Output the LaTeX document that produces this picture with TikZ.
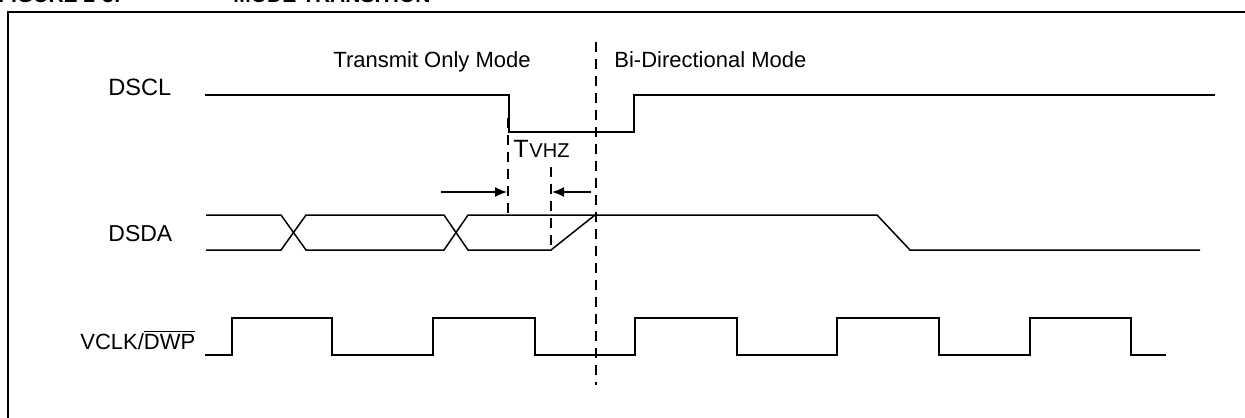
\documentclass[tikz,border=0pt]{standalone}
\usepackage{fontspec}
\setmainfont{Liberation Sans}
\usetikzlibrary{arrows.meta,positioning}
\tikzset{
    every node/.style={font=\fontsize{11}{13}\selectfont, inner sep=0pt},
    sig label/.style={anchor=base west},
    wave/.style={line width=0.75pt, line join=miter},
    marker/.style={line width=0.6pt, dash pattern=on 5pt off 3.5pt}
}

\begin{document}
\begin{tikzpicture}[
            x = 0.5pt, y = -0.5pt, % one unit is one pixel of the reference
            > = {Latex[length=6pt,width=5pt]}
        ]
        \useasboundingbox (0,0) rectangle (1245,417);

        % title and frame
        \node[sig label, font=\bfseries\fontsize{10.5}{13}\selectfont] (fig) at (-2,3) {FIGURE 2-3:};
        \node[sig label, font=\bfseries\fontsize{10.5}{13}\selectfont] (title) at (233,3) {MODE TRANSITION};
        \draw[line width=1.25pt] (8,440) -- (8,12) -- (1260,12);

        % mode labels
        \node[sig label] (txmode) at (333,68) {Transmit Only Mode};
        \node[sig label] (bimode) at (614,68) {Bi-Directional Mode};

        % signal names
        \node[sig label, font=\fontsize{11.8}{13}\selectfont] (dscl) at (108,96) {DSCL};
        \node[sig label, font=\fontsize{11.5}{13}\selectfont] (dsda) at (108,241) {DSDA};
        \node[sig label] (vclk) at (80,349) {VCLK/$\overline{\mbox{DWP}}$};

        % DSCL
        \draw[wave] (205,95) -- (509,95) -- (509,132) -- (634,132) -- (634,95) -- (1215,95);

        % DSDA
        \draw[wave] (206,215) -- (281,215) -- (306,250) -- (444,250) -- (468,215)
            -- (877,215) -- (910,250) -- (1200,250);
        \draw[wave] (206,250) -- (281,250) -- (306,215) -- (444,215) -- (468,250)
            -- (551,250) -- (595,215);

        % VCLK/DWP
        \draw[wave] (205,355)
            \foreach \r/\f in {232/332, 433/535, 635/737, 837/939, 1030/1131} {
                -- (\r,355) -- (\r,318) -- (\f,318) -- (\f,355)
            } -- (1166,355);

        % timing markers
        \coordinate (mtop) at (596,42);
        \coordinate (mbot) at (596,385);
        \draw[marker] (mtop) -- (mbot);
        \coordinate (ltop) at (508,118);
        \coordinate (lbot) at (508,215);
        \draw[marker] (ltop) -- (lbot);
        \coordinate (rtop) at (551,167);
        \coordinate (rbot) at (551,250);
        \draw[marker] (rtop) -- (rbot);

        \node[sig label, font=\fontsize{12.5}{14}\selectfont] (tv) at (513,157) {T};
        \node[font=\fontsize{10}{12}\selectfont, right=0pt of tv.base east, anchor=base west] (vhz) {VHZ};

        \coordinate (la) at (441,192);
        \coordinate (lb) at (507,192);
        \coordinate (ra) at (591,192);
        \coordinate (rb) at (552,192);
        \draw[->, line width=0.75pt] (la) -- (lb);
        \draw[->, line width=0.75pt] (ra) -- (rb);

  \end{tikzpicture}
\end{document}
